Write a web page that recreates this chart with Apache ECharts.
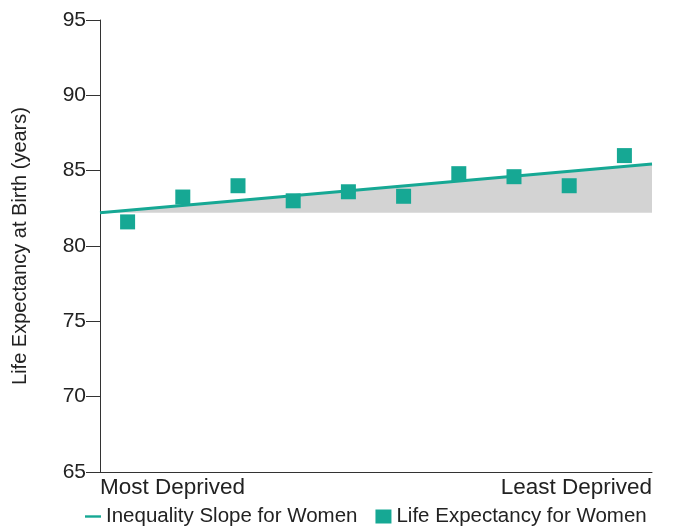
<!DOCTYPE html>
<html><head><meta charset="utf-8">
<script src="https://cdn.jsdelivr.net/npm/echarts@6/dist/echarts.min.js"></script>
<style>html,body{margin:0;padding:0;background:#fff}#main{width:689px;height:530px}</style>
</head><body><div id="main"></div>
<script>
var positions = [0.5, 1.5, 2.5, 3.5, 4.5, 5.5, 6.5, 7.5, 8.5, 9.5];
var lifeExp = [81.6, 83.25, 84.0, 83.0, 83.6, 83.3, 84.8, 84.6, 84.0, 86.0];
var slopeX = [0, 10];
var slopeY = [82.2, 85.45];
var teal = '#16a894';
var font = 'Liberation Sans, Arial, sans-serif';

var myChart = echarts.init(document.getElementById('main'));
var option = {
  animation: false,
  grid: { left: 100, right: 37, top: 20, bottom: 58 },
  legend: {
    bottom: -2, left: 80, itemGap: 18, itemWidth: 16,
    textStyle: { fontFamily: font, fontSize: 20.5, color: '#222' },
    data: [
      { name: 'Inequality Slope for Women', icon: 'path://M0,0 L20,0 L20,3 L0,3 Z', itemWidth: 16, itemHeight: 3 },
      { name: 'Life Expectancy for Women', icon: 'rect', itemWidth: 15, itemHeight: 15 }
    ]
  },
  xAxis: {
    type: 'value', min: 0, max: 10, interval: 10,
    axisLine: { lineStyle: { color: '#333' } },
    axisTick: { show: false },
    splitLine: { show: false },
    axisLabel: {
      fontFamily: font, fontSize: 22.5, color: '#222', margin: 4,
      alignMinLabel: 'left', alignMaxLabel: 'right',
      formatter: function (v) { return v === 0 ? 'Most Deprived' : 'Least Deprived'; }
    }
  },
  yAxis: {
    type: 'value', min: 65, max: 95, interval: 5,
    name: 'Life Expectancy at Birth (years)', nameLocation: 'middle', nameGap: 70,
    nameTextStyle: { fontFamily: font, fontSize: 20, color: '#222' },
    axisLine: { show: true, lineStyle: { color: '#333' } },
    axisTick: { show: true, length: 14, lineStyle: { color: '#333' } },
    splitLine: { show: false },
    axisLabel: { fontFamily: font, fontSize: 21, color: '#222', margin: 14 }
  },
  series: [
    { type: 'custom', silent: true, z: 1,
      data: [[slopeX[0], slopeY[0], slopeX[1], slopeY[1]]],
      renderItem: function (params, api) {
        var a = api.coord([api.value(0), api.value(1)]);
        var b = api.coord([api.value(2), api.value(3)]);
        var c = api.coord([api.value(2), api.value(1)]);
        return { type: 'polygon', shape: { points: [a, b, c] }, style: { fill: '#d3d3d3' } };
      } },
    { name: 'Inequality Slope for Women', type: 'line', symbol: 'none', color: teal, z: 3,
      lineStyle: { width: 3, color: teal },
      data: slopeX.map(function (x, i) { return [x, slopeY[i]]; }) },
    { name: 'Life Expectancy for Women', type: 'scatter', symbol: 'rect', symbolSize: 15, z: 4,
      color: teal, itemStyle: { color: teal, opacity: 1 },
      data: positions.map(function (x, i) { return [x, lifeExp[i]]; }) }
  ]
};
myChart.setOption(option);
</script></body></html>
